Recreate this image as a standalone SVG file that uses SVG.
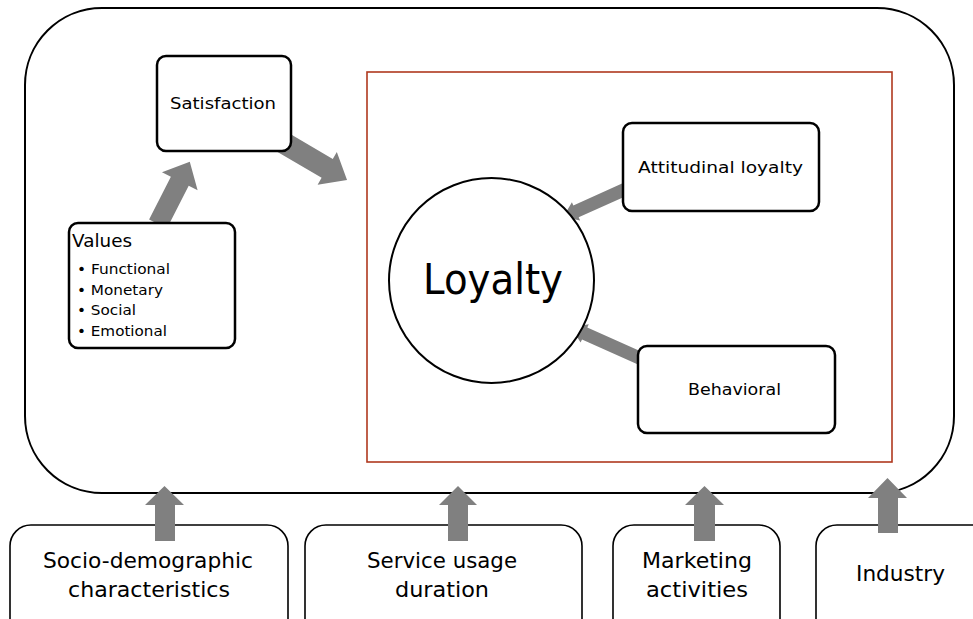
<svg xmlns="http://www.w3.org/2000/svg" width="973" height="619" viewBox="0 0 973 619">
  <style>
    text { font-family: "DejaVu Sans", "Liberation Sans", sans-serif; fill: #000; }
    .box { fill: #fff; stroke: #000; stroke-width: 2.5; }
    .factor { fill: #fff; stroke: #000; stroke-width: 1.6; }
    .frame { fill: #fff; stroke: #000; stroke-width: 2; }
    .arrow { fill: #808080; stroke: none; }
    .mid { text-anchor: middle; }
  </style>

  <!-- outer context frame -->
  <rect id="context" class="frame" x="25" y="8" width="929" height="485" rx="77" ry="77"/>

  <!-- loyalty area -->
  <rect id="loyalty-area" x="367" y="72" width="525" height="390" fill="none" stroke="#b0391f" stroke-width="1.6"/>

  <!-- connectors -->
  <g id="connectors">
    <!-- Values -> Satisfaction -->
    <polygon class="arrow" transform="translate(158,224) rotate(-63)" points="0,-10 48,-10 48,-20 70,0 48,20 48,10 0,10"/>
    <!-- Satisfaction -> Loyalty -->
    <polygon class="arrow" transform="translate(272,136) rotate(30.4)" points="0,-11 64,-11 64,-19 87,0 64,19 64,11 0,11"/>
    <!-- Attitudinal loyalty -> Loyalty -->
    <polygon class="arrow" transform="translate(628,188) rotate(155.8)" points="0,-6.5 57,-6.5 57,-10 71,0 57,10 57,6.5 0,6.5"/>
    <!-- Behavioral -> Loyalty -->
    <polygon class="arrow" transform="translate(644,360) rotate(204.1)" points="0,-6.5 65,-6.5 65,-10 80,0 65,10 65,6.5 0,6.5"/>
  </g>

  <g id="satisfaction">
    <rect class="box" x="157" y="56" width="134" height="95" rx="9"/>
    <text class="mid" x="223" y="109" font-size="16.5" textLength="106" lengthAdjust="spacingAndGlyphs">Satisfaction</text>
  </g>

  <g id="values">
    <rect class="box" x="69" y="223" width="166" height="125" rx="9"/>
    <text x="72" y="247" font-size="17" textLength="60" lengthAdjust="spacingAndGlyphs">Values</text>
    <text x="77" y="274" font-size="14.5" textLength="93" lengthAdjust="spacingAndGlyphs">• Functional</text>
    <text x="77" y="294.5" font-size="14.5" textLength="86" lengthAdjust="spacingAndGlyphs">• Monetary</text>
    <text x="77" y="315" font-size="14.5" textLength="59" lengthAdjust="spacingAndGlyphs">• Social</text>
    <text x="77" y="335.5" font-size="14.5" textLength="90" lengthAdjust="spacingAndGlyphs">• Emotional</text>
  </g>

  <g id="loyalty">
    <circle cx="491.5" cy="280.5" r="102.5" fill="#fff" stroke="#000" stroke-width="2"/>
    <text class="mid" x="493" y="294" font-size="43" textLength="140" lengthAdjust="spacingAndGlyphs">Loyalty</text>
  </g>

  <g id="attitudinal">
    <rect class="box" x="623" y="123" width="196" height="88" rx="9"/>
    <text class="mid" x="720.5" y="173" font-size="16" textLength="165" lengthAdjust="spacingAndGlyphs">Attitudinal loyalty</text>
  </g>

  <g id="behavioral">
    <rect class="box" x="638" y="346" width="197" height="87" rx="9"/>
    <text class="mid" x="734.5" y="395" font-size="16" textLength="93" lengthAdjust="spacingAndGlyphs">Behavioral</text>
  </g>

  <!-- external factors -->
  <g id="socio-demographic">
    <rect class="factor" x="10" y="525" width="278" height="120" rx="21"/>
    <text class="mid" x="148" y="568" font-size="22" textLength="210" lengthAdjust="spacingAndGlyphs">Socio-demographic</text>
    <text class="mid" x="149" y="597" font-size="22" textLength="162" lengthAdjust="spacingAndGlyphs">characteristics</text>
  </g>

  <g id="service-usage">
    <rect class="factor" x="305" y="525" width="277" height="120" rx="21"/>
    <text class="mid" x="442" y="568" font-size="22" textLength="150" lengthAdjust="spacingAndGlyphs">Service usage</text>
    <text class="mid" x="442" y="597" font-size="22" textLength="94" lengthAdjust="spacingAndGlyphs">duration</text>
  </g>

  <g id="marketing">
    <rect class="factor" x="613" y="525" width="167" height="120" rx="21"/>
    <text class="mid" x="697" y="568" font-size="22" textLength="110" lengthAdjust="spacingAndGlyphs">Marketing</text>
    <text class="mid" x="697" y="597" font-size="22" textLength="102" lengthAdjust="spacingAndGlyphs">activities</text>
  </g>

  <g id="industry">
    <rect class="factor" x="816" y="525" width="180" height="120" rx="21"/>
    <text class="mid" x="900.5" y="581" font-size="22" textLength="89" lengthAdjust="spacingAndGlyphs">Industry</text>
  </g>

  <!-- factor arrows into the context frame -->
  <g id="factor-connectors">
    <polygon class="arrow" points="155,541 155,505 145,505 164.5,486 184,505 175,505 175,541"/>
    <polygon class="arrow" points="448,541 448,505 439,505 458,486 477,505 468,505 468,541"/>
    <polygon class="arrow" points="694,541 694,505 685,505 704.5,486 724,505 715,505 715,541"/>
    <polygon class="arrow" points="878,533 878,498 868,498 887.5,478 907,498 898,498 898,533"/>
  </g>
</svg>
